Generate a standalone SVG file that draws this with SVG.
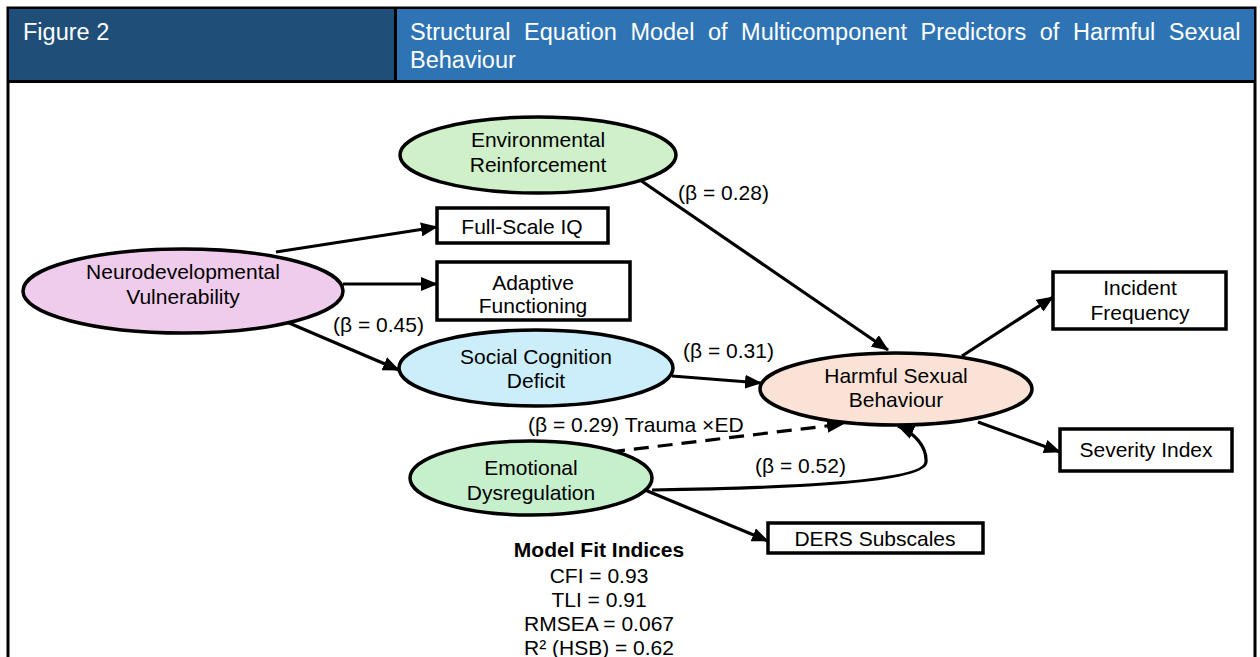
<svg xmlns="http://www.w3.org/2000/svg" width="1260" height="657" viewBox="0 0 1260 657">
<defs>
<marker id="arr" viewBox="0 0 17 14" refX="16" refY="7" markerWidth="17" markerHeight="14" markerUnits="userSpaceOnUse" orient="auto">
<path d="M0,0 L17,7 L0,14 Z" fill="#000"/>
</marker>
<style>
text{font-family:"Liberation Sans",Arial,sans-serif;fill:#000;}
.n{font-size:21px;text-anchor:middle;}
.lbl{font-size:21px;}
.hdr{font-size:23.5px;fill:#fff;}
.el{stroke:#000;stroke-width:3.5;}
.bx{fill:#fff;stroke:#000;stroke-width:3.5;}
.c{fill:none;stroke:#000;stroke-width:3.2;marker-end:url(#arr);}
.fit{font-size:21px;text-anchor:middle;}
</style>
</defs>
<rect width="1260" height="657" fill="#fff"/>
<g id="frame">
<rect x="8" y="8" width="1247" height="700" fill="none" stroke="#000" stroke-width="3"/>
<rect x="9" y="9" width="386" height="72" fill="#1F4E79"/>
<rect x="396" y="9" width="858" height="72" fill="#2E74B5"/>
<line x1="395.5" y1="8" x2="395.5" y2="82" stroke="#000" stroke-width="3"/>
<line x1="8" y1="81.5" x2="1255" y2="81.5" stroke="#000" stroke-width="3"/>
<text class="hdr" x="23" y="40">Figure 2</text>
<text class="hdr" x="410" y="40" word-spacing="7">Structural Equation Model of Multicomponent Predictors of Harmful Sexual</text>
<text class="hdr" x="410" y="68">Behaviour</text>
</g>
<g id="connectors">
<line class="c" x1="276" y1="252" x2="437" y2="227"/>
<line class="c" x1="343" y1="284" x2="437" y2="284"/>
<line class="c" x1="275" y1="317" x2="399" y2="370"/>
<line class="c" x1="640" y1="180" x2="888" y2="350"/>
<line class="c" x1="672" y1="376" x2="761" y2="383"/>
<line class="c" x1="610" y1="452" x2="843" y2="424" stroke-dasharray="15 9"/>
<path class="c" d="M652,490 C790,488 925,482 926,462 C927,446 914,433 898,426"/>
<line class="c" x1="645" y1="490" x2="768" y2="541"/>
<line class="c" x1="962" y1="356" x2="1053" y2="297"/>
<line class="c" x1="978" y1="422" x2="1060" y2="452"/>
<text class="lbl" x="678" y="200">(β = 0.28)</text>
<text class="lbl" x="333" y="332">(β = 0.45)</text>
<text class="lbl" x="683" y="358">(β = 0.31)</text>
<text class="lbl" x="528" y="432">(β = 0.29) Trauma ×ED</text>
<text class="lbl" x="755" y="473">(β = 0.52)</text>
</g>
<g id="env">
<ellipse class="el" cx="538" cy="155" rx="138" ry="38" fill="#CFF0C9"/>
<text class="n" x="538" y="147">Environmental</text>
<text class="n" x="538" y="172">Reinforcement</text>
</g>
<g id="neuro">
<ellipse class="el" cx="183" cy="291" rx="160" ry="42" fill="#F0CCEC"/>
<text class="n" x="183" y="279">Neurodevelopmental</text>
<text class="n" x="183" y="304">Vulnerability</text>
</g>
<g id="fsiq">
<rect class="bx" x="437" y="208" width="171" height="35"/>
<text class="n" x="522" y="234">Full-Scale IQ</text>
</g>
<g id="adaptive">
<rect class="bx" x="437" y="262" width="193" height="58"/>
<text class="n" x="533" y="290">Adaptive</text>
<text class="n" x="533" y="313">Functioning</text>
</g>
<g id="social">
<ellipse class="el" cx="536" cy="368" rx="137" ry="38" fill="#CCEDFA"/>
<text class="n" x="536" y="364">Social Cognition</text>
<text class="n" x="536" y="388">Deficit</text>
</g>
<g id="emotional">
<ellipse class="el" cx="531" cy="478" rx="121" ry="37" fill="#C6EFCB"/>
<text class="n" x="531" y="475">Emotional</text>
<text class="n" x="531" y="500">Dysregulation</text>
</g>
<g id="hsb">
<ellipse class="el" cx="896" cy="389" rx="136" ry="36" fill="#FBE2D6"/>
<text class="n" x="896" y="383">Harmful Sexual</text>
<text class="n" x="896" y="407">Behaviour</text>
</g>
<g id="incident">
<rect class="bx" x="1053" y="272" width="173" height="57"/>
<text class="n" x="1140" y="295">Incident</text>
<text class="n" x="1140" y="320">Frequency</text>
</g>
<g id="severity">
<rect class="bx" x="1060" y="429" width="172" height="42"/>
<text class="n" x="1146" y="457">Severity Index</text>
</g>
<g id="ders">
<rect class="bx" x="768" y="523" width="215" height="30"/>
<text class="n" x="875" y="546">DERS Subscales</text>
</g>
<g id="fit">
<text class="fit" x="599" y="557" font-weight="bold">Model Fit Indices</text>
<text class="fit" x="599" y="583">CFI = 0.93</text>
<text class="fit" x="599" y="607">TLI = 0.91</text>
<text class="fit" x="599" y="631">RMSEA = 0.067</text>
<text class="fit" x="599" y="655">R² (HSB) = 0.62</text>
</g>
</svg>
